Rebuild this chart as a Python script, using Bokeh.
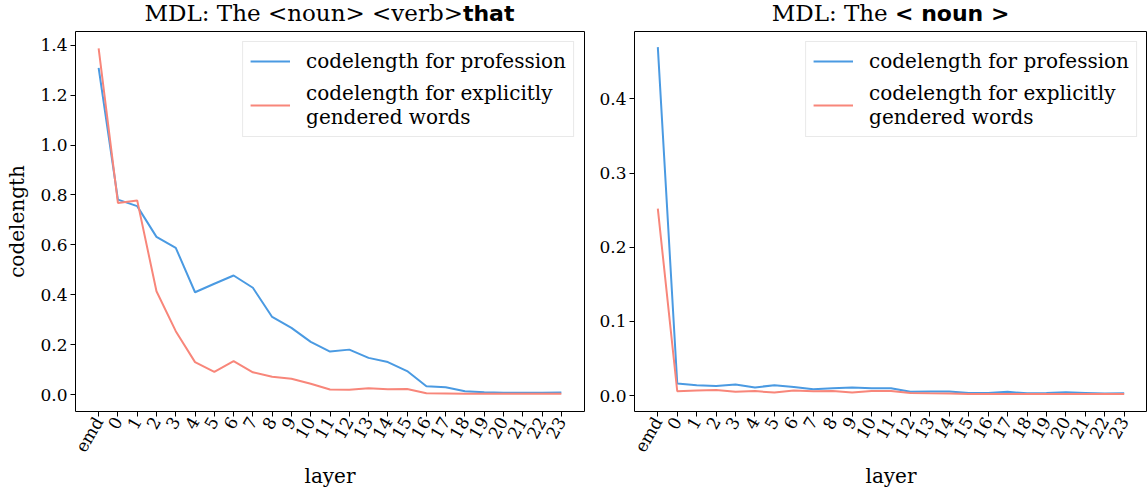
import math
from bokeh.plotting import figure
from bokeh.models import Range1d, FixedTicker, Div, PrintfTickFormatter
from bokeh.layouts import row, column
from bokeh.embed import file_html
from bokeh.resources import INLINE

layers = list(range(-1, 24))
layer_labels = ["emd"] + [str(i) for i in range(24)]

left_profession = [1.309, 0.781, 0.755, 0.632, 0.588, 0.410, 0.444, 0.477, 0.428, 0.311,
                   0.267, 0.211, 0.172, 0.180, 0.147, 0.130, 0.094, 0.033, 0.029, 0.013,
                   0.009, 0.007, 0.007, 0.007, 0.008]
left_gendered = [1.387, 0.768, 0.778, 0.414, 0.254, 0.130, 0.091, 0.134, 0.089, 0.071,
                 0.063, 0.043, 0.020, 0.019, 0.025, 0.021, 0.022, 0.005, 0.004, 0.003,
                 0.003, 0.003, 0.003, 0.003, 0.003]

right_profession = [0.470, 0.0161, 0.0139, 0.0130, 0.0148, 0.0110, 0.0139, 0.0117, 0.0085, 0.0100,
                    0.0110, 0.0100, 0.0100, 0.0050, 0.0054, 0.0054, 0.0036, 0.0036, 0.0050, 0.0030,
                    0.0036, 0.0045, 0.0036, 0.0027, 0.0030]
right_gendered = [0.252, 0.0058, 0.0067, 0.0076, 0.0050, 0.0060, 0.0040, 0.0067, 0.0058, 0.0060,
                  0.0040, 0.0063, 0.0060, 0.0036, 0.0030, 0.0027, 0.0022, 0.0020, 0.0020, 0.0020,
                  0.0020, 0.0020, 0.0020, 0.0020, 0.0020]

left_yticks = [0.0, 0.2, 0.4, 0.6, 0.8, 1.0, 1.2, 1.4]
right_yticks = [0.0, 0.1, 0.2, 0.3, 0.4]

label_prof = "codelength for profession"
label_gend = "codelength for explicitly\ngendered words"

BLUE = "#4a9ae2"
SALMON = "#f8867a"
SERIF = "DejaVu Serif"

FIG_H = 464
TITLE_H = 26


def make_fig(width, border_left, border_right, y0, y1, yticks, prof, gend, ylabel):
    p = figure(width=width, height=FIG_H, output_backend="svg", toolbar_location=None,
               x_range=Range1d(-2.2, 24.2), y_range=Range1d(y0, y1),
               min_border_left=border_left, min_border_right=border_right,
               min_border_top=5, min_border_bottom=78)
    p.outline_line_color = "black"
    p.outline_line_width = 1
    p.xgrid.visible = False
    p.ygrid.visible = False
    p.line(layers, prof, color=BLUE, line_width=2, legend_label=label_prof)
    p.line(layers, gend, color=SALMON, line_width=2, legend_label=label_gend)

    xa = p.xaxis[0]
    xa.ticker = FixedTicker(ticks=layers)
    xa.major_label_overrides = {l: s for l, s in zip(layers, layer_labels)}
    xa.major_label_orientation = math.pi / 3
    xa.axis_label = "layer"
    ya = p.yaxis[0]
    ya.ticker = FixedTicker(ticks=yticks)
    ya.formatter = PrintfTickFormatter(format="%.1f")
    if ylabel:
        ya.axis_label = ylabel
    for ax in (xa, ya):
        ax.axis_line_color = None
        ax.minor_tick_line_color = None
        ax.major_tick_in = 0
        ax.major_tick_out = 5
        ax.major_tick_line_color = "black"
        ax.major_label_text_font = SERIF
        ax.major_label_text_font_size = "17px"
        ax.major_label_text_color = "black"
        ax.major_label_standoff = 3
        ax.axis_label_text_font = SERIF
        ax.axis_label_text_font_size = "20px"
        ax.axis_label_text_font_style = "normal"
        ax.axis_label_text_color = "black"
    xa.major_label_standoff = 2
    xa.axis_label_standoff = 0
    ya.axis_label_standoff = 8

    lg = p.legend[0]
    lg.location = "top_right"
    lg.margin = 10
    lg.padding = 7
    lg.spacing = 8
    lg.glyph_width = 40
    lg.glyph_height = 20
    lg.label_standoff = 16
    lg.label_height = 20
    lg.label_text_font = SERIF
    lg.label_text_font_size = "20px"
    lg.label_text_color = "black"
    lg.label_text_line_height = 0.95
    lg.border_line_color = "#d4d4d4"
    lg.border_line_width = 1
    lg.background_fill_alpha = 0.85
    return p


p1 = make_fig(594, 75, 10, -0.068, 1.455, left_yticks, left_profession, left_gendered, "codelength")
p2 = make_fig(553, 40, 0, -0.0215, 0.491, right_yticks, right_profession, right_gendered, None)


def title_div(serif_part, bold_part, w, left):
    style = ("display:block;box-sizing:border-box;width:%dpx;font-size:23px;line-height:%dpx;"
             "text-align:center;color:black;white-space:nowrap;" % (w, TITLE_H))
    html = (f'<div style="{style}"><span style="font-family:\'DejaVu Serif\'">{serif_part}</span>'
            f'<span style="font-family:\'DejaVu Sans\';font-weight:bold;font-size:22px">{bold_part}</span></div>')
    return Div(text=html, width=w, height=TITLE_H, margin=(0, 0, 0, left),
               styles={"width": f"{w}px", "text-align": "center"})


t1 = title_div("MDL: The &lt;noun&gt; &lt;verb&gt;", "that", 509, 75)
t2 = title_div("MDL: The ", "&lt; noun &gt;", 513, 40)

layout = row(column(t1, p1, spacing=0), column(t2, p2, spacing=0), spacing=0)
open("out.html", "w").write(file_html(layout, INLINE))
